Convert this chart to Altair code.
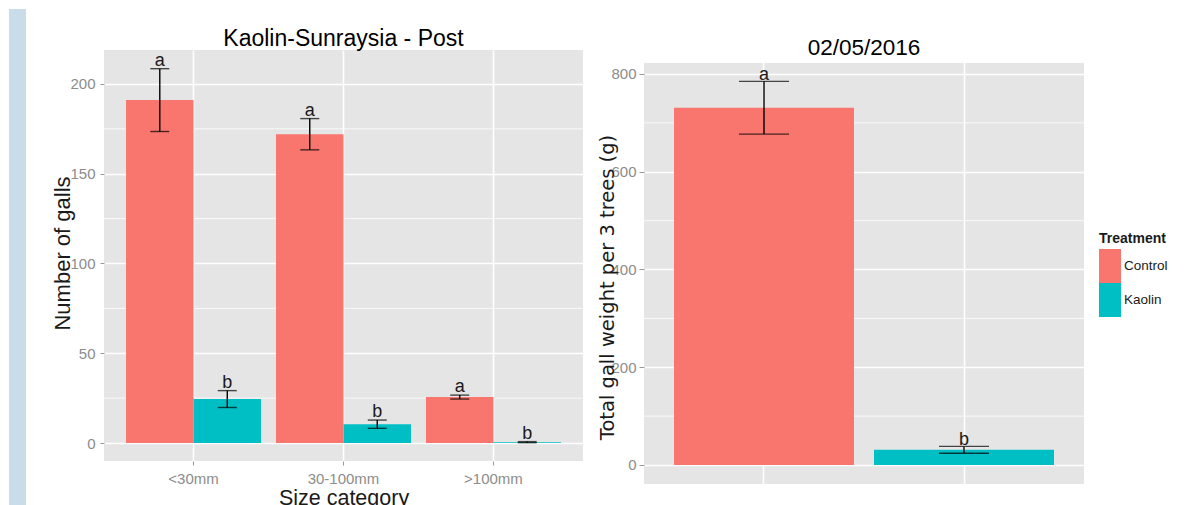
import altair as alt
import pandas as pd

# ---------------- data ----------------
sizes = ["<30mm", "30-100mm", ">100mm"]
treatments = ["Control", "Kaolin"]
colors = ["#F8766D", "#00BFC4"]

galls_control = [191.0, 172.0, 25.6]
galls_control_se = [17.5, 8.7, 1.1]
galls_control_letters = ["a", "a", "a"]
galls_kaolin = [24.5, 10.5, 0.5]
galls_kaolin_se = [4.7, 2.3, 0.3]
galls_kaolin_letters = ["b", "b", "b"]

weight = [731.0, 31.0]
weight_se = [54.0, 7.0]
weight_letters = ["a", "b"]

left_major = [0, 50, 100, 150, 200]
left_minor = [25, 75, 125, 175]
right_major = [0, 200, 400, 600, 800]
right_minor = [100, 300, 500, 700]

# ---------------- styles ----------------
F = "Liberation Sans, Arial, Helvetica, sans-serif"
PANEL = "#E5E5E5"
TICK = "#9a9a9a"
LAB = "#8c8c8c"
INK = "#1a1a1a"

rows = []
for i, s in enumerate(sizes):
    rows.append(dict(Size=s, Treatment="Control", Mean=galls_control[i],
                     SE=galls_control_se[i], Letter=galls_control_letters[i]))
    rows.append(dict(Size=s, Treatment="Kaolin", Mean=galls_kaolin[i],
                     SE=galls_kaolin_se[i], Letter=galls_kaolin_letters[i]))
left_df = pd.DataFrame(rows)
left_df["Lo"] = left_df["Mean"] - left_df["SE"]
left_df["Hi"] = left_df["Mean"] + left_df["SE"]

right_df = pd.DataFrame({"Treatment": treatments, "Mean": weight,
                         "SE": weight_se, "Letter": weight_letters})
right_df["Lo"] = right_df["Mean"] - right_df["SE"]
right_df["Hi"] = right_df["Mean"] + right_df["SE"]

one = pd.DataFrame({"k": [0]})

legend = alt.Legend(
    title="Treatment", orient="none", legendX=1090, legendY=182,
    titleFont=F, titleFontSize=14, titleFontWeight="bold", titleColor=INK,
    titlePadding=9, labelFont=F, labelFontSize=13.5, labelColor=INK,
    symbolType="M-1,-1.545H1V1.545H-1Z", symbolSize=484, symbolStrokeWidth=0,
    symbolOpacity=1, rowPadding=0, labelOffset=3, padding=0,
)
fill = alt.Fill("Treatment:N", scale=alt.Scale(domain=treatments, range=colors),
                legend=legend)

# ---------------- strip ----------------
strip = alt.Chart(one).mark_rect(color="#C9DCEA").encode(
    x=alt.value(0), x2=alt.value(17), y=alt.value(-41), y2=alt.value(456)
).properties(width=28.5, height=1,
             view=alt.ViewBackground(fill="transparent", stroke="transparent"))

# ---------------- left panel ----------------
ysL = alt.Scale(domain=[-10.0, 218.9], nice=False)
xsL = alt.Scale(paddingInner=0.1, paddingOuter=0.147)
axYL = alt.Axis(values=left_major, grid=True, gridColor="white", gridWidth=1.6,
                domain=False, tickColor=TICK, tickSize=4, tickWidth=1,
                labelColor=LAB, labelFont=F, labelFontSize=15, labelPadding=5,
                titleFont=F, titleFontSize=22, titleFontWeight="normal",
                titleColor=INK, titleX=-42, titleY=203, titleBaseline="middle")
axXL = alt.Axis(grid=True, gridColor="white", gridWidth=1.6, bandPosition=0.5,
                domain=False, tickColor=TICK, tickSize=4, tickWidth=1, labelAngle=0,
                labelColor=LAB, labelFont=F, labelFontSize=15, labelPadding=6,
                titleFont=F, titleFontSize=21.5, titleFontWeight="normal",
                titleColor=INK, titlePadding=1)

xL = alt.X("Size:N", sort=sizes, scale=xsL, axis=axXL, title="Size category")
xoL = alt.XOffset("Treatment:N", sort=treatments)


def yL(f):
    return alt.Y(f, scale=ysL, axis=axYL, title="Number of galls")


minorL = alt.Chart(pd.DataFrame({"v": left_minor})).mark_rule(
    color="white", strokeWidth=0.8).encode(y=yL("v:Q"))
barsL = alt.Chart(left_df).mark_bar().encode(x=xL, xOffset=xoL, y=yL("Mean:Q"), fill=fill)
rulesL = alt.Chart(left_df).mark_rule(color="black", strokeWidth=1.4).encode(
    x=xL, xOffset=xoL, y=yL("Lo:Q"), y2="Hi:Q")
capLoL = alt.Chart(left_df).mark_tick(color="black", thickness=1.4, size=19).encode(
    x=xL, xOffset=xoL, y=yL("Lo:Q"))
capHiL = alt.Chart(left_df).mark_tick(color="black", thickness=1.4, size=19).encode(
    x=xL, xOffset=xoL, y=yL("Hi:Q"))
textL = alt.Chart(left_df).mark_text(font=F, fontSize=18, color=INK,
                                     baseline="alphabetic", dy=-3).encode(
    x=xL, xOffset=xoL, y=yL("Hi:Q"), text="Letter:N")

left = alt.layer(minorL, barsL, rulesL, capLoL, capHiL, textL).properties(
    width=479, height=411,
    title=alt.TitleParams("Kaolin-Sunraysia  - Post", font=F, fontSize=23,
                          fontWeight="normal", color="black", anchor="middle",
                          frame="group", baseline="alphabetic", offset=-19),
)

# ---------------- right panel ----------------
ysR = alt.Scale(domain=[-38.9, 849.1], nice=False)
axYR = alt.Axis(values=right_major, grid=True, gridColor="white", gridWidth=1.6,
                domain=False, tickColor=TICK, tickSize=5, tickWidth=1,
                labelColor=LAB, labelFont=F, labelFontSize=15, labelPadding=3,
                titleFont="DejaVu Sans", titleFontSize=19.5, titleFontWeight="normal",
                titleColor=INK, titleX=-37, titleY=237, titleBaseline="middle")
axXR = alt.Axis(labels=False, ticks=False, domain=False, grid=True,
                gridColor="white", gridWidth=1.6, bandPosition=0.5, title=None)
xR = alt.X("Treatment:N", sort=treatments,
           scale=alt.Scale(paddingInner=0.1, paddingOuter=0.15), axis=axXR)


def yR(f):
    return alt.Y(f, scale=ysR, axis=axYR, title="Total gall weight per 3 trees (g)")


minorR = alt.Chart(pd.DataFrame({"v": right_minor})).mark_rule(
    color="white", strokeWidth=0.8).encode(y=yR("v:Q"))
barsR = alt.Chart(right_df).mark_bar().encode(x=xR, y=yR("Mean:Q"), fill=fill)
rulesR = alt.Chart(right_df).mark_rule(color="black", strokeWidth=1.4).encode(
    x=xR, y=yR("Lo:Q"), y2="Hi:Q")
capLoR = alt.Chart(right_df).mark_tick(color="black", thickness=1.4, size=50).encode(
    x=xR, y=yR("Lo:Q"))
capHiR = alt.Chart(right_df).mark_tick(color="black", thickness=1.4, size=50).encode(
    x=xR, y=yR("Hi:Q"))
textR = alt.Chart(right_df).mark_text(font=F, fontSize=18, color=INK,
                                      baseline="alphabetic", dy=-1).encode(
    x=xR, y=yR("Hi:Q"), text="Letter:N")
band = alt.Chart(one).mark_rect(color="white").encode(
    x=alt.value(0), x2=alt.value(440), y=alt.value(0), y2=alt.value(13))

right = alt.layer(minorR, barsR, rulesR, capLoR, capHiR, textR, band).properties(
    width=440, height=434,
    title=alt.TitleParams("02/05/2016", font=F, fontSize=22.5, fontWeight="normal",
                          color="black", anchor="middle", frame="group",
                          baseline="alphabetic", offset=-27),
)

chart = alt.hconcat(strip, left, right, spacing=13).properties(padding=0).configure_view(
    stroke=None, fill=PANEL
)

chart.save("out.html", embed_options={"renderer": "svg", "actions": False})
